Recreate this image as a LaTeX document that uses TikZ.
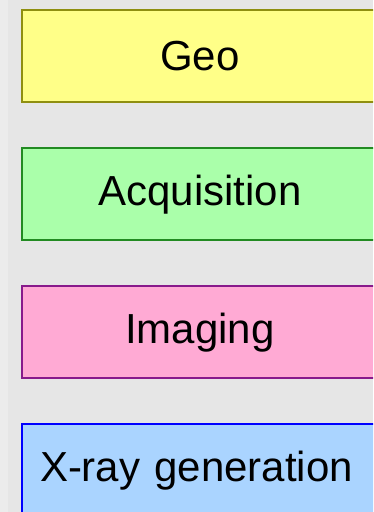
\documentclass[tikz,border=0pt]{standalone}
\usepackage{fontspec}
\setmainfont{Liberation Sans}
\usepackage{xcolor}
\usetikzlibrary{positioning}

\definecolor{bggray}{HTML}{E6E6E6}
\definecolor{bgstrip}{HTML}{ECECEC}
\definecolor{geofill}{HTML}{FFFF88}
\definecolor{geoline}{HTML}{8F8F10}
\definecolor{acqfill}{HTML}{AAFFAA}
\definecolor{acqline}{HTML}{228B22}
\definecolor{imgfill}{HTML}{FFAAD4}
\definecolor{imgline}{HTML}{881A8B}
\definecolor{xrayfill}{HTML}{AAD4FF}
\definecolor{xrayline}{HTML}{0000FF}

\begin{document}
\begin{tikzpicture}[x=1pt, y=1pt, layer block/.style={draw, rectangle, line width=2pt, minimum width=356pt, minimum height=92pt, align=center, font=\fontsize{42}{50}\selectfont}, node distance=138pt]
    \clip (0,0) rectangle (373,512);
    \fill[bggray] (0,0) rectangle (373,512);
    \fill[bgstrip] (0,0) rectangle (8,512);

    \node[layer block, draw=geoline, fill=geofill] (geo) at (200,455.5) {Geo};
    \node[layer block, draw=acqline, fill=acqfill, below of=geo] (acq) {Acquisition};
    \node[layer block, draw=imgline, fill=imgfill, below of=acq] (img) {Imaging};
    \node[layer block, draw=xrayline, fill=xrayfill, below of=img, text width=320pt, align=left, inner xsep=9pt] (xray) {X-ray generation};

\end{tikzpicture}
\end{document}
